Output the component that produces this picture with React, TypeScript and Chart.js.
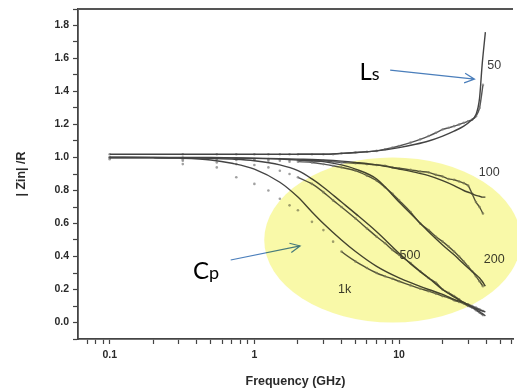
import React, { useEffect, useRef } from "react";
import { Chart, registerables } from "chart.js";

Chart.register(...registerables);

// ---- data (frequency in GHz, |Zin|/R) ----
const freqModel = [0.1, 0.2, 0.3, 0.5, 0.7, 1, 1.5, 2, 2.5, 3, 4, 5, 7, 10, 13, 16, 20, 24, 28, 31, 34, 36, 37.5, 39.5];
const model50 = [1.02, 1.02, 1.02, 1.02, 1.02, 1.02, 1.02, 1.02, 1.02, 1.02, 1.025, 1.03, 1.04, 1.06, 1.08, 1.1, 1.13, 1.16, 1.19, 1.22, 1.26, 1.36, 1.56, 1.76];
const model100 = [1.0, 1.0, 1.0, 1.0, 0.998, 0.996, 0.993, 0.99, 0.988, 0.985, 0.978, 0.97, 0.955, 0.93, 0.91, 0.89, 0.86, 0.83, 0.8, 0.785, 0.77, 0.765, 0.76, 0.76];
const model200 = [1.0, 1.0, 0.999, 0.998, 0.997, 0.995, 0.99, 0.985, 0.98, 0.975, 0.955, 0.93, 0.87, 0.73, 0.63, 0.55, 0.47, 0.41, 0.355, 0.32, 0.29, 0.27, 0.25, 0.22];
const model500 = [1.0, 0.999, 0.998, 0.995, 0.99, 0.98, 0.955, 0.92, 0.87, 0.82, 0.73, 0.66, 0.55, 0.42, 0.33, 0.27, 0.2, 0.155, 0.12, 0.1, 0.085, 0.075, 0.07, 0.065];
const model1k = [1.0, 0.999, 0.996, 0.985, 0.965, 0.93, 0.85, 0.76, 0.67, 0.6, 0.5, 0.43, 0.34, 0.27, 0.23, 0.2, 0.17, 0.14, 0.12, 0.1, 0.08, 0.065, 0.055, 0.04];

const freqMeas = [0.1, 0.32, 0.55, 0.75, 1, 1.25, 1.5, 1.75, 2, 2.5, 3, 3.5, 4, 5, 6, 7, 8, 9, 10, 12, 14, 16, 18, 20, 22, 24, 26, 28, 30, 32, 34, 36, 38];
const meas50 = [1.02, 1.02, 1.02, 1.02, 1.02, 1.02, 1.02, 1.02, 1.02, 1.02, 1.02, 1.02, 1.025, 1.03, 1.035, 1.04, 1.05, 1.06, 1.07, 1.09, 1.11, 1.13, 1.15, 1.17, 1.18, 1.19, 1.2, 1.21, 1.22, 1.23, 1.25, 1.3, 1.44];
const meas100 = [1.0, 1.0, 0.995, 0.995, 0.99, 0.99, 0.99, 0.985, 0.985, 0.98, 0.98, 0.975, 0.97, 0.965, 0.96, 0.955, 0.95, 0.94, 0.935, 0.925, 0.915, 0.91, 0.895, 0.885, 0.87, 0.865, 0.855, 0.845, 0.83, 0.78, 0.73, 0.7, 0.66];
const meas200 = [1.0, 0.99, 0.99, 0.985, 0.985, 0.98, 0.98, 0.975, 0.975, 0.97, 0.96, 0.95, 0.94, 0.92, 0.89, 0.86, 0.82, 0.78, 0.74, 0.67, 0.6, 0.56, 0.52, 0.49, 0.46, 0.43, 0.4, 0.37, 0.34, 0.31, 0.28, 0.25, 0.22];
const meas500 = [1.0, 0.98, 0.97, 0.96, 0.955, 0.94, 0.92, 0.9, 0.88, 0.84, 0.79, 0.74, 0.7, 0.63, 0.57, 0.52, 0.48, 0.44, 0.41, 0.36, 0.31, 0.27, 0.24, 0.2, 0.18, 0.16, 0.14, 0.12, 0.11, 0.1, 0.09, 0.08, 0.07];
const meas1k = [0.99, 0.96, 0.94, 0.88, 0.84, 0.8, 0.75, 0.71, 0.68, 0.61, 0.56, 0.49, 0.43, 0.37, 0.33, 0.3, 0.28, 0.265, 0.25, 0.225, 0.205, 0.19, 0.175, 0.16, 0.15, 0.135, 0.125, 0.115, 0.1, 0.09, 0.075, 0.06, 0.045];

const xTickValues = [0.07, 0.08, 0.09, 0.1, 0.2, 0.3, 0.4, 0.5, 0.6, 0.7, 0.8, 0.9, 1, 2, 3, 4, 5, 6, 7, 8, 9, 10, 20, 30, 40, 50, 60];
const xLabelValues = [0.1, 1, 10];
const xRange = [0.0604, 61.3];
const yRange = [-0.1, 1.9];

// annotations (data coordinates)
const curveLabels = ["50", "100", "500", "200", "1k"];
const curveLabelX = [45.5, 42, 11.9, 45.5, 4.2];
const curveLabelY = [1.56, 0.906, 0.403, 0.379, 0.197];
const ellipseBox = [1.17, 69.5, 0.0, 1.0];
const lsAnchor = [5.32, 1.47];
const cpAnchor = [0.376, 0.264];
const lsArrow = [8.68, 1.53, 33.2, 1.475];
const cpArrow = [0.686, 0.379, 2.07, 0.464];

const pts = (xs: number[], ys: number[]) => xs.map((x, i) => ({ x, y: ys[i] }));

function drawArrow(ctx: CanvasRenderingContext2D, x0: number, y0: number, x1: number, y1: number) {
  const ang = Math.atan2(y1 - y0, x1 - x0);
  const len = 11;
  const spread = 0.45;
  ctx.beginPath();
  ctx.moveTo(x0, y0);
  ctx.lineTo(x1, y1);
  ctx.moveTo(x1 - len * Math.cos(ang - spread), y1 - len * Math.sin(ang - spread));
  ctx.lineTo(x1, y1);
  ctx.lineTo(x1 - len * Math.cos(ang + spread), y1 - len * Math.sin(ang + spread));
  ctx.stroke();
}

const overlayPlugin = {
  id: "overlay",
  beforeDraw(chart: any) {
    const { ctx, width, height } = chart;
    ctx.save();
    ctx.fillStyle = "#ffffff";
    ctx.fillRect(0, 0, width, height);
    ctx.restore();
  },
  afterDatasetsDraw(chart: any) {
    const { ctx, chartArea } = chart;
    const xs = chart.scales.x;
    const ys = chart.scales.y;
    const px = (v: number) => xs.getPixelForValue(v);
    const py = (v: number) => ys.getPixelForValue(v);
    ctx.save();
    // top frame line
    ctx.strokeStyle = "#555";
    ctx.lineWidth = 2;
    ctx.beginPath();
    ctx.moveTo(chartArea.left, chartArea.top);
    ctx.lineTo(chartArea.right, chartArea.top);
    ctx.stroke();

    // curve labels
    ctx.fillStyle = "#3c3c3c";
    ctx.font = '12.5px "Liberation Sans", Arial, sans-serif';
    ctx.textAlign = "center";
    ctx.textBaseline = "middle";
    curveLabels.forEach((t, i) => ctx.fillText(t, px(curveLabelX[i]), py(curveLabelY[i])));

    // Ls / Cp
    ctx.fillStyle = "#000";
    ctx.textAlign = "left";
    ctx.textBaseline = "alphabetic";
    const drawSub = (a: string, b: string, anchor: number[]) => {
      const x = px(anchor[0]);
      const y = py(anchor[1]);
      ctx.font = '24px Lato, "Open Sans", sans-serif';
      ctx.fillText(a, x, y);
      const w = ctx.measureText(a).width;
      ctx.font = '18px Lato, "Open Sans", sans-serif';
      ctx.fillText(b, x + w, y);
    };
    drawSub("L", "s", lsAnchor);
    drawSub("C", "p", cpAnchor);

    // arrows
    ctx.strokeStyle = "#4a7ebb";
    ctx.lineWidth = 1.2;
    drawArrow(ctx, px(lsArrow[0]), py(lsArrow[1]), px(lsArrow[2]), py(lsArrow[3]));
    drawArrow(ctx, px(cpArrow[0]), py(cpArrow[1]), px(cpArrow[2]), py(cpArrow[3]));

    // yellow ellipse (multiply)
    const l = px(ellipseBox[0]);
    const r = px(ellipseBox[1]);
    const b = py(ellipseBox[2]);
    const t = py(ellipseBox[3]);
    ctx.globalCompositeOperation = "multiply";
    ctx.fillStyle = "rgb(249,249,168)";
    ctx.beginPath();
    ctx.ellipse((l + r) / 2, (t + b) / 2, (r - l) / 2, (b - t) / 2, 0, 0, Math.PI * 2);
    ctx.fill();
    ctx.restore();
  },
};

const modelStyle = {
  borderColor: "#444",
  borderWidth: 1.4,
  pointRadius: 0,
  cubicInterpolationMode: "monotone" as const,
  fill: false,
};

const measStyle = (lineFrom: number) => ({
  borderColor: "#555",
  borderWidth: 1.4,
  pointRadius: 1.3,
  pointBackgroundColor: "rgba(130,130,130,0.75)",
  pointBorderWidth: 0,
  tension: 0.2,
  fill: false,
  segment: {
    borderColor: (c: any) => (c.p0.parsed.x >= lineFrom ? "#555" : "rgba(0,0,0,0)"),
  },
});

export default function App() {
  const ref = useRef<HTMLCanvasElement>(null);
  useEffect(() => {
    if (!ref.current) return;
    const chart = new Chart(ref.current, {
      type: "line",
      data: {
        datasets: [
          { data: pts(freqModel, model50), ...modelStyle },
          { data: pts(freqModel, model100), ...modelStyle },
          { data: pts(freqModel, model200), ...modelStyle },
          { data: pts(freqModel, model500), ...modelStyle },
          { data: pts(freqModel, model1k), ...modelStyle },
          { data: pts(freqMeas, meas50), ...measStyle(2) },
          { data: pts(freqMeas, meas100), ...measStyle(2) },
          { data: pts(freqMeas, meas200), ...measStyle(2) },
          { data: pts(freqMeas, meas500), ...measStyle(2) },
          { data: pts(freqMeas, meas1k), ...measStyle(4) },
        ] as any,
      },
      options: {
        responsive: false,
        devicePixelRatio: 1,
        animation: false,
        layout: { padding: { top: 9, right: 0, left: 0, bottom: 0 } },
        plugins: { legend: { display: false }, tooltip: { enabled: false } },
        scales: {
          x: {
            type: "logarithmic",
            min: xRange[0],
            max: xRange[1],
            afterBuildTicks: (s: any) => {
              s.ticks = xTickValues.map((v) => ({ value: v, major: xLabelValues.includes(v) }));
            },
            afterFit: (s: any) => {
              s.height = 53;
              s.paddingLeft = 0;
              s.paddingRight = 0;
            },
            border: { display: true, color: "#444", width: 1.8 },
            grid: { display: true, drawOnChartArea: false, drawTicks: true, tickLength: 5, tickColor: "#444", tickWidth: 1.2 },
            ticks: {
              autoSkip: false,
              maxRotation: 0,
              minRotation: 0,
              padding: 5,
              color: "#2a2a2a",
              font: { family: '"Liberation Sans", Arial, sans-serif', size: 10.5, weight: "bold" },
              callback: (v: any) => (xLabelValues.includes(Number(v)) ? String(v) : ""),
            },
            title: {
              display: true,
              text: "Frequency (GHz)",
              color: "#2a2a2a",
              font: { family: '"Liberation Sans", Arial, sans-serif', size: 12.5, weight: "bold" },
              padding: { top: 0, bottom: 3 },
            },
          },
          y: {
            type: "linear",
            min: yRange[0],
            max: yRange[1],
            afterFit: (s: any) => {
              s.width = 78;
              s.paddingTop = 0;
              s.paddingBottom = 0;
            },
            border: { display: true, color: "#444", width: 1.8 },
            grid: { display: true, drawOnChartArea: false, drawTicks: true, tickLength: 5, tickColor: "#444", tickWidth: 1.2 },
            ticks: {
              stepSize: 0.1,
              autoSkip: false,
              padding: 4,
              color: "#2a2a2a",
              font: { family: '"Liberation Sans", Arial, sans-serif', size: 10.5, weight: "bold" },
              callback: (v: any) => {
                const r = Math.round(Number(v) * 10);
                return r % 2 === 0 && r >= 0 && r <= 18 ? (r / 10).toFixed(1) : "";
              },
            },
            title: {
              display: true,
              text: "| Zin| /R",
              color: "#2a2a2a",
              font: { family: '"Liberation Sans", Arial, sans-serif', size: 12.5, weight: "bold" },
              padding: { top: 14, bottom: 0 },
            },
          },
        },
      } as any,
      plugins: [overlayPlugin],
    });
    return () => chart.destroy();
  }, []);
  return (
    <div style={{ position: "fixed", left: 0, top: 0, width: 517, height: 392 }}>
      <canvas ref={ref} width={517} height={392} style={{ display: "block", width: 517, height: 392 }} />
    </div>
  );
}
